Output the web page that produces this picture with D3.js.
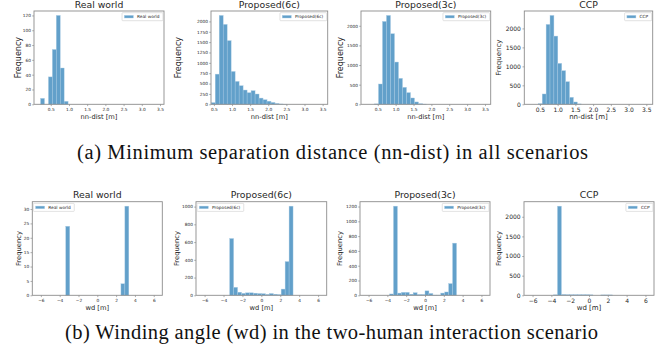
<html>
<head>
<meta charset="utf-8">
<title>nn-dist / wd histograms</title>
<script src="https://cdn.jsdelivr.net/npm/d3@7"></script>
<style>
  body { margin: 0; background: #fff; }
  text { font-family: "DejaVu Sans", sans-serif; fill: #262626; }
  .caption { font-family: "Liberation Serif", "Times New Roman", serif; fill: #111; }
  .frame { fill: none; stroke: #8c8c8c; stroke-width: 0.9px; }
  .bar { fill: #62a0ca; stroke: #a9cbe4; stroke-width: 0.4px; }
  .legendbox { fill: #fff; stroke: #cfcfcf; stroke-width: 0.6px; }
</style>
</head>
<body>
<script>

// ---- data ----
var titles = ["Real world", "Proposed(6c)", "Proposed(3c)", "CCP"];

// (a) nn-dist histograms: first bin edge, bin width, counts
var nnBinStart = [0.22, 0.426, 0.407, 0.455];
var nnBinWidth = [0.108, 0.11, 0.112, 0.11];
var nnReal = [8, 0, 37, 74, 120, 49, 4];
var nn6c = [40, 728, 2144, 1928, 1536, 792, 552, 448, 344, 280, 328, 248, 150, 110, 75, 45, 20, 8, 3];
var nn3c = [10, 517, 2110, 2263, 1797, 1076, 661, 432, 297, 161, 60, 15, 5];
var nnCcp = [15, 272, 2105, 2342, 1798, 1079, 886, 596, 184, 61, 10];
var nnXlim = [[0.04, 3.61], [0.42, 3.64], [0.03, 3.66], [0.06, 3.68]];
var nnXTicks = [0.5, 1.0, 1.5, 2.0, 2.5, 3.0, 3.5];
var nnYTicks = [
  [0, 20, 40, 60, 80, 100, 120],
  [0, 250, 500, 750, 1000, 1250, 1500, 1750, 2000],
  [0, 500, 1000, 1500, 2000],
  [0, 500, 1000, 1500, 2000]
];

// (b) wd histograms: 30 bins over [-2pi, 2pi]
var wdRange = [-6.2832, 6.2832];
var wdXlim = [-6.91, 6.91];
var wdReal = [0,0,0,0,0,0,0,24,0,0,0,0,0,0,0,0,0,0,0,0,0,4,31,0,0,0,0,0,0,0];
var wd6c   = [0,0,0,0,0,0,0,640,90,35,22,28,28,24,20,18,10,20,12,8,70,380,1005,0,0,0,0,0,0,0];
var wd3c   = [0,0,0,0,0,0,18,1205,30,40,40,15,35,10,10,60,25,3,3,30,45,158,705,0,0,0,0,0,0,0];
var wdCcp  = [0,0,0,0,0,0,12,2270,20,15,15,15,15,15,15,12,0,0,10,10,10,0,0,0,0,0,0,0,0,0];
var wdXTicks = [-6, -4, -2, 0, 2, 4, 6];
var wdYTicks = [
  [0, 5, 10, 15, 20, 25, 30],
  [0, 200, 400, 600, 800, 1000],
  [0, 200, 400, 600, 800, 1000, 1200],
  [0, 500, 1000, 1500, 2000]
];

// ---- layout ----
var width = 665, height = 351;
var topX = [[34, 164], [211, 327.7], [361, 490.7], [524.3, 652.7]];
var botX = [[32.3, 162.3], [196, 326.7], [360, 490], [524, 654]];
var topY = [11, 104.3], botY = [201.7, 295.3];
var tickFont = [4.3, 4.3, 4.3, 6];
var ylabFontTop = [8, 8, 8, 7], ylabFontBot = [6.8, 6.8, 6.8, 6.8];
var ylabXTop = [18.3, 178.3, 340, 499], ylabXBot = [18.3, 176.7, 340, 498.3];
var wdLegendSide = ["left", "left", "right", "right"];

var svg = d3.select("body").append("svg")
  .attr("width", width)
  .attr("height", height);

function binsOf(counts, start, w) {
  return counts.map(function(c, i) {
    return { x0: start + i * w, x1: start + (i + 1) * w, n: c };
  });
}

function drawPanel(p) {
  var g = svg.append("g");
  var x = d3.scaleLinear().domain(p.xlim).range(p.xr);
  var ymax = d3.max(p.bins, function(d) { return d.n; }) * 1.05;
  var y = d3.scaleLinear().domain([0, ymax]).range(p.yr);

  g.selectAll(".bar")
    .data(p.bins.filter(function(d) { return d.n > 0; }))
    .enter().append("rect")
    .attr("class", "bar")
    .attr("x", function(d) { return x(d.x0); })
    .attr("width", function(d) { return x(d.x1) - x(d.x0); })
    .attr("y", function(d) { return y(d.n); })
    .attr("height", function(d) { return y(0) - y(d.n); });

  var big = p.font > 5;
  var xa = g.append("g")
    .attr("transform", "translate(0," + p.yr[0] + ")")
    .call(d3.axisBottom(x).tickValues(p.xticks).tickFormat(p.xfmt)
      .tickSize(1.8).tickPadding(big ? 2.1 : 1.4));
  var ya = g.append("g")
    .attr("transform", "translate(" + p.xr[0] + ",0)")
    .call(d3.axisLeft(y).tickValues(p.yticks).tickFormat(d3.format("d"))
      .tickSize(1.8).tickPadding(big ? 1.6 : 1.2));
  [xa, ya].forEach(function(a) {
    a.select(".domain").remove();
    a.selectAll("line").attr("stroke", "#777").attr("stroke-width", 0.6);
    a.selectAll("text").attr("font-family", "DejaVu Sans")
      .style("font-size", p.font + "px").attr("fill", "#333");
  });

  g.append("rect").attr("class", "frame")
    .attr("x", p.xr[0]).attr("y", p.yr[1])
    .attr("width", p.xr[1] - p.xr[0]).attr("height", p.yr[0] - p.yr[1]);

  // title
  g.append("text")
    .attr("x", (p.xr[0] + p.xr[1]) / 2).attr("y", p.yr[1] - 3.5)
    .attr("text-anchor", "middle")
    .style("font-size", "9.3px")
    .text(p.title);

  // axis labels
  g.append("text")
    .attr("x", (p.xr[0] + p.xr[1]) / 2).attr("y", p.yr[0] + p.xlabDy)
    .attr("text-anchor", "middle")
    .style("font-size", p.xlabFont + "px")
    .text(p.xlabel);
  g.append("text")
    .attr("transform", "translate(" + p.ylabX + "," + ((p.yr[0] + p.yr[1]) / 2) + ") rotate(-90)")
    .attr("text-anchor", "middle")
    .attr("dy", "0.35em")
    .style("font-size", p.ylabFont + "px")
    .text("Frequency");

  // legend
  var lg = g.append("g");
  var box = lg.append("rect").attr("class", "legendbox").attr("rx", 0.8);
  var lt = lg.append("text")
    .style("font-size", "4.3px")
    .attr("dy", "0.35em")
    .text(p.title);
  var tw = lt.node().getComputedTextLength();
  var bw = tw + 18.5, bh = 8;
  var bx = p.legend == "right" ? p.xr[1] - 1 - bw : p.xr[0] + 1;
  var by = p.yr[1] + 1.7;
  box.attr("x", bx).attr("y", by).attr("width", bw).attr("height", bh);
  lg.append("rect").attr("class", "bar").attr("stroke", "none")
    .attr("x", bx + 2.3).attr("y", by + bh / 2 - 1.3)
    .attr("width", 9).attr("height", 2.6);
  lt.attr("x", bx + 15).attr("y", by + bh / 2);
}

var nnCounts = [nnReal, nn6c, nn3c, nnCcp];
var wdCounts = [wdReal, wd6c, wd3c, wdCcp];
var wdWidth = (wdRange[1] - wdRange[0]) / 30;

titles.forEach(function(t, i) {
  drawPanel({
    title: t,
    bins: binsOf(nnCounts[i], nnBinStart[i], nnBinWidth[i]),
    xlim: nnXlim[i], xr: topX[i], yr: [topY[1], topY[0]],
    xticks: nnXTicks, xfmt: d3.format(".1f"), yticks: nnYTicks[i],
    font: tickFont[i], xlabel: "nn-dist [m]", xlabFont: i == 3 ? 7 : 6.7, xlabDy: 14.8,
    ylabX: ylabXTop[i], ylabFont: ylabFontTop[i], legend: "right"
  });
  drawPanel({
    title: t,
    bins: binsOf(wdCounts[i], wdRange[0], wdWidth),
    xlim: wdXlim, xr: botX[i], yr: [botY[1], botY[0]],
    xticks: wdXTicks, xfmt: d3.format("d"), yticks: wdYTicks[i],
    font: tickFont[i], xlabel: "wd [m]", xlabFont: i == 3 ? 7 : 6.7, xlabDy: 14.3,
    ylabX: ylabXBot[i], ylabFont: ylabFontBot[i], legend: wdLegendSide[i]
  });
});

// sub-figure captions
svg.append("text").attr("class", "caption")
  .attr("x", 332.5).attr("y", 159)
  .attr("text-anchor", "middle")
  .attr("textLength", 511).attr("lengthAdjust", "spacing")
  .style("font-size", "20.5px")
  .text("(a) Minimum separation distance (nn-dist) in all scenarios");
svg.append("text").attr("class", "caption")
  .attr("x", 331.5).attr("y", 339)
  .attr("text-anchor", "middle")
  .attr("textLength", 533).attr("lengthAdjust", "spacing")
  .style("font-size", "20.5px")
  .text("(b) Winding angle (wd) in the two-human interaction scenario");

</script>
</body>
</html>
